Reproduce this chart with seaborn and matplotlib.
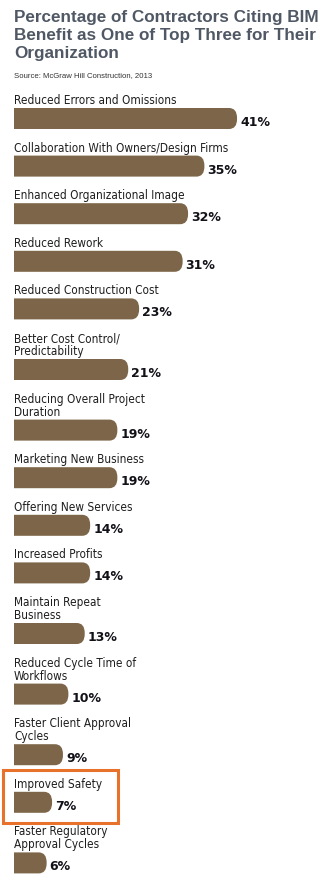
import numpy as np
import pandas as pd
import matplotlib
matplotlib.use("Agg")
import matplotlib.pyplot as plt
import seaborn as sns
from matplotlib.path import Path
from matplotlib.patches import PathPatch, Rectangle

# ---------------- data ----------------
categories = [
    "Reduced Errors and Omissions",
    "Collaboration With Owners/Design Firms",
    "Enhanced Organizational Image",
    "Reduced Rework",
    "Reduced Construction Cost",
    "Better Cost Control/\nPredictability",
    "Reducing Overall Project\nDuration",
    "Marketing New Business",
    "Offering New Services",
    "Increased Profits",
    "Maintain Repeat\nBusiness",
    "Reduced Cycle Time of\nWorkflows",
    "Faster Client Approval\nCycles",
    "Improved Safety",
    "Faster Regulatory\nApproval Cycles",
]
values = [41, 35, 32, 31, 23, 21, 19, 19, 14, 14, 13, 10, 9, 7, 6]
value_labels = [f"{v}%" for v in values]
highlight = "Improved Safety"
title = "Percentage of Contractors Citing BIM\nBenefit as One of Top Three for Their\nOrganization"
source = "Source: McGraw Hill Construction, 2013"

# ---------------- layout (pixel units) ----------------
W, H = 329, 883
X0_PX = 14.0          # pixel where 0% sits
PX_PER_PCT = 5.44     # pixels per percentage point
BAR_H = 21.0
FIRST_TOP = 108.0
STEP_SINGLE = 47.6
STEP_DOUBLE = 60.6
LINE_H = 13.0

n_lines = [c.count("\n") + 1 for c in categories]
tops = [FIRST_TOP]
for nl in n_lines[1:]:
    tops.append(tops[-1] + (STEP_SINGLE if nl == 1 else STEP_DOUBLE))
tops = np.array(tops)
centers = tops + BAR_H / 2

df = pd.DataFrame({"category": categories, "value": values, "ypos": centers})

BAR_COLOR = "#7C6548"
TITLE_COLOR = "#4F5864"
TEXT_COLOR = "#1E1E1E"
VALUE_COLOR = "#111118"
BOX_COLOR = "#E8722C"

sns.set_style("white")
plt.rcParams["font.family"] = ["Liberation Sans", "DejaVu Sans"]

fig = plt.figure(figsize=(W / 100, H / 100), dpi=100)
fig.patch.set_facecolor("white")
ax = fig.add_axes([0, 0, 1, 1])

min_step = np.min(np.diff(np.sort(centers)))
sns.barplot(data=df, x="value", y="ypos", orient="y", native_scale=True,
            width=BAR_H / min_step, color=BAR_COLOR, saturation=1,
            edgecolor="none", ax=ax)

ax.set_xlim(-X0_PX / PX_PER_PCT, (W - X0_PX) / PX_PER_PCT)
ax.set_ylim(H, 0)
ax.axis("off")

# replace bars with right-rounded versions (corner radii in pixels)
RX_PX, RY_PX = 8.0, 10.0
rx = RX_PX / PX_PER_PCT
ry = RY_PX
for p in list(ax.patches):
    x0 = p.get_x()
    y0 = p.get_y()
    w = p.get_width()
    h = p.get_height()
    x1 = x0 + w
    ya, yb = min(y0, y0 + h), max(y0, y0 + h)
    verts = [
        (x0, ya), (x1 - rx, ya), (x1, ya), (x1, ya + ry),
        (x1, yb - ry), (x1, yb), (x1 - rx, yb), (x0, yb), (x0, ya),
    ]
    codes = [Path.MOVETO, Path.LINETO, Path.CURVE3, Path.CURVE3,
             Path.LINETO, Path.CURVE3, Path.CURVE3, Path.LINETO, Path.CLOSEPOLY]
    ax.add_patch(PathPatch(Path(verts, codes), facecolor=p.get_facecolor(),
                           edgecolor="none", zorder=2))
    p.set_visible(False)

label_font = ["DejaVu Sans"]
for cat, v, vl, top in zip(categories, values, value_labels, tops):
    lines = cat.split("\n")
    nl = len(lines)
    for i, line in enumerate(lines):
        ax.text(0, top - 4 - LINE_H * (nl - 1 - i), line, ha="left", va="baseline",
                fontsize=8.5, family=label_font, fontstretch="condensed",
                color=TEXT_COLOR)
    ax.text(v + 3 / PX_PER_PCT, top + BAR_H - 3, vl, ha="left", va="baseline",
            fontsize=9, fontweight="bold", family=["DejaVu Sans"], color=VALUE_COLOR)
    if cat == highlight:
        bx0 = (3 - X0_PX) / PX_PER_PCT
        bx1 = (118 - X0_PX) / PX_PER_PCT
        ax.add_patch(Rectangle((bx0, top - 22), bx1 - bx0, BAR_H + 32,
                               fill=False, edgecolor=BOX_COLOR, linewidth=2.2, zorder=3))

# title and source
for i, line in enumerate(title.split("\n")):
    fig.text(X0_PX / W, 1 - (21.7 + 18 * i) / H, line, ha="left", va="baseline",
             fontsize=12.3, fontweight="bold", color=TITLE_COLOR,
             family=["Liberation Sans", "DejaVu Sans"])
fig.text(X0_PX / W, 1 - 77 / H, source, ha="left", va="baseline",
         fontsize=5.6, color="#333333", family=["Liberation Sans"])

fig.savefig("out.png", dpi=100, facecolor="white")
